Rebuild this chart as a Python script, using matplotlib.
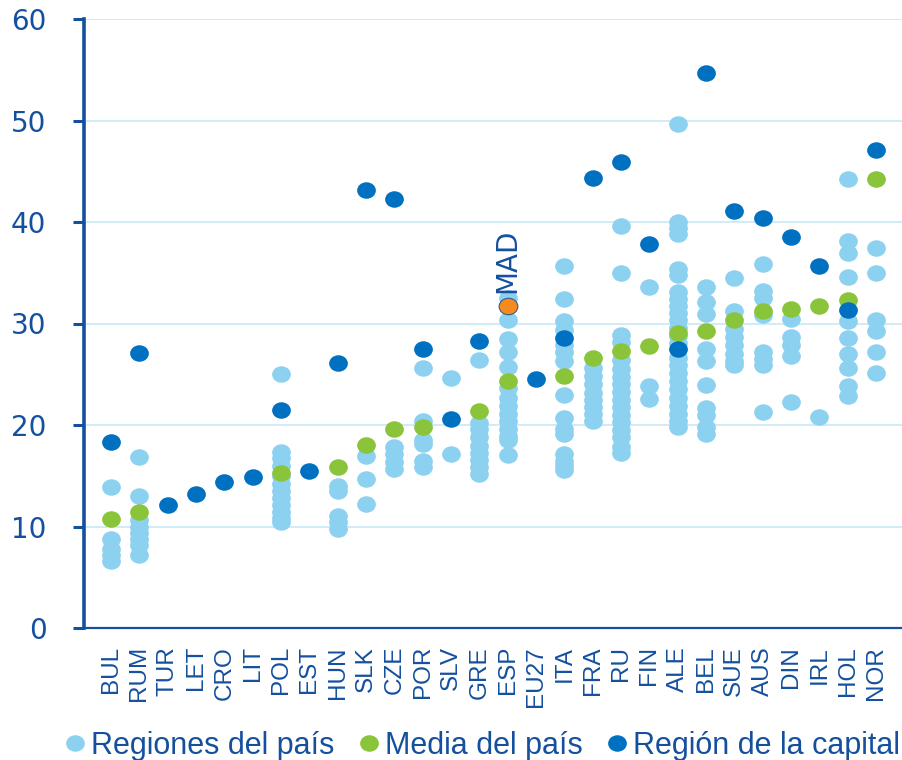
import numpy as np
import matplotlib
matplotlib.use("Agg")
import matplotlib.pyplot as plt
from matplotlib.path import Path
from matplotlib.transforms import Affine2D
from matplotlib.lines import Line2D

# Countries in chart order
countries = ["BUL", "RUM", "TUR", "LET", "CRO", "LIT", "POL", "EST", "HUN", "SLK",
             "CZE", "POR", "SLV", "GRE", "ESP", "EU27", "ITA", "FRA", "RU", "FIN",
             "ALE", "BEL", "SUE", "AUS", "DIN", "IRL", "HOL", "NOR"]

# Regiones del país (light blue dots)
regions = {
    "BUL": [13.9, 8.8, 7.8, 7.2, 6.6],
    "RUM": [16.8, 13.0, 10.6, 10.0, 9.4, 8.8, 8.2, 7.2],
    "POL": [25.0, 17.3, 16.7, 16.0, 15.0, 14.2, 13.5, 12.8, 12.1, 11.4, 10.8, 10.4],
    "HUN": [14.0, 13.5, 11.0, 10.4, 9.8],
    "SLK": [16.9, 14.7, 12.2],
    "CZE": [17.8, 17.1, 16.4, 15.7],
    "POR": [25.6, 20.4, 18.5, 18.1, 16.5, 15.9],
    "SLV": [24.6, 17.1],
    "GRE": [26.4, 20.2, 19.6, 18.8, 17.9, 17.2, 16.6, 15.9, 15.2],
    "ESP": [32.5, 30.3, 28.5, 27.2, 25.7, 23.6, 22.7, 21.9, 21.1, 20.4, 19.6, 18.9, 18.5, 17.0],
    "ITA": [35.7, 32.4, 30.2, 29.4, 27.9, 27.2, 26.3, 23.0, 20.7, 19.6, 19.1, 17.1, 16.5, 16.0, 15.6],
    "FRA": [25.6, 24.8, 24.0, 23.2, 22.5, 21.8, 21.1, 20.4],
    "RU": [39.6, 35.0, 28.9, 28.2, 26.4, 25.5, 24.7, 24.0, 23.3, 22.5, 21.8, 21.0, 20.3,
           19.5, 18.8, 17.8, 17.2],
    "FIN": [33.6, 23.8, 22.6],
    "ALE": [49.7, 40.0, 39.4, 38.8, 35.4, 34.8, 33.1, 32.4, 31.7, 31.0, 30.3, 29.6, 28.8,
            28.1, 26.6, 25.9, 25.1, 24.3, 23.5, 22.7, 21.9, 21.1, 20.4, 19.8],
    "BEL": [33.6, 32.1, 30.9, 27.5, 26.3, 23.9, 21.7, 21.0, 19.8, 19.1],
    "SUE": [34.5, 31.2, 29.5, 28.7, 27.9, 27.0, 26.3, 25.9],
    "AUS": [35.9, 33.2, 32.5, 30.8, 27.2, 26.5, 25.9, 21.3],
    "DIN": [30.4, 28.7, 27.9, 26.8, 22.3],
    "IRL": [20.8],
    "HOL": [44.2, 38.1, 36.9, 34.6, 30.2, 28.6, 27.0, 25.6, 23.8, 22.9],
    "NOR": [37.4, 35.0, 30.3, 29.3, 27.2, 25.1],
}

# Media del país (green dots)
nan = np.nan
country_mean = [10.7, 11.4, nan, nan, nan, nan, 15.3, nan, 15.9, 18.0,
                19.6, 19.8, nan, 21.4, 24.3, nan, 24.8, 26.6, 27.3, 27.8,
                29.1, 29.3, 30.3, 31.2, 31.4, 31.7, 32.3, 44.2]

# Región de la capital (dark blue dots)
capital = [18.3, 27.1, 12.1, 13.2, 14.4, 14.9, 21.5, 15.5, 26.1, 43.2,
           42.3, 27.5, 20.6, 28.3, nan, 24.5, 28.6, 44.3, 45.9, 37.8,
           27.5, 54.7, 41.1, 40.4, 38.5, 35.7, 31.3, 47.1]

# Madrid highlighted
mad_label = "MAD"
mad_value = 31.7

yticks = [0, 10, 20, 30, 40, 50, 60]
legend_labels = ["Regiones del país", "Media del país", "Región de la capital"]

LIGHT = "#8DD1F1"
GREEN = "#8AC43A"
DARK = "#0070C0"
ORANGE = "#F58A1F"
TEXT = "#14509E"
GRID = "#C8E9F6"
NARROW = ["Liberation Sans", "DejaVu Sans"]

# slightly flattened dot, like in the original
dot = Path.unit_circle().transformed(Affine2D().scale(1.0, 0.88))
MS = 13.5

fig = plt.figure(figsize=(9.03, 7.6), dpi=100)
ax = fig.add_axes([84 / 903, 1 - 628 / 760, 818 / 903, 609 / 760])

x = np.arange(len(countries))

# light blue regional dots
for i, c in enumerate(countries):
    vals = regions.get(c, [])
    if vals:
        ax.plot([i] * len(vals), vals, linestyle="none", marker=dot, ms=MS,
                color=LIGHT, mec="none", zorder=3)

ax.plot(x, country_mean, linestyle="none", marker=dot, ms=MS, color=GREEN,
        mec="none", zorder=4)
ax.plot(x, capital, linestyle="none", marker=dot, ms=MS, color=DARK,
        mec="none", zorder=5)

esp = countries.index("ESP")
ax.plot([esp], [mad_value], linestyle="none", marker=dot, ms=MS, color=ORANGE,
        mec="#3B5C80", mew=0.8, zorder=6)
ax.text(esp, mad_value + 1.3, mad_label, rotation=90, ha="center", va="bottom",
        fontsize=20, color=TEXT)

ax.set_xlim(-0.953, 27.92)
ax.set_ylim(0, 60)
ax.set_yticks(yticks)
ax.set_xticks(x)
ax.set_xticklabels(countries, rotation=90, family=NARROW, fontsize=17.5, color=TEXT)
ax.tick_params(axis="x", length=0, pad=13)
ax.tick_params(axis="y", length=8, width=2.2, color=TEXT, labelcolor=TEXT,
               labelsize=20, pad=19)

ax.grid(axis="y", color=GRID, linewidth=1.2, zorder=0)
ax.set_axisbelow(True)
for side in ["top", "right"]:
    ax.spines[side].set_visible(False)
ax.spines["left"].set_color(TEXT)
ax.spines["left"].set_linewidth(2.6)
ax.spines["bottom"].set_color(TEXT)
ax.spines["bottom"].set_linewidth(1.6)

handles = [Line2D([], [], linestyle="none", marker=dot, ms=MS, color=col, mec="none")
           for col in [LIGHT, GREEN, DARK]]
fig.legend(handles, legend_labels, loc="lower center", bbox_to_anchor=(0.534, -0.037),
           ncol=3, frameon=False, handlelength=0.7, handletextpad=0.15,
           columnspacing=0.8, prop={"family": NARROW, "size": 22},
           labelcolor=TEXT)

fig.savefig("out.png", dpi=100)
